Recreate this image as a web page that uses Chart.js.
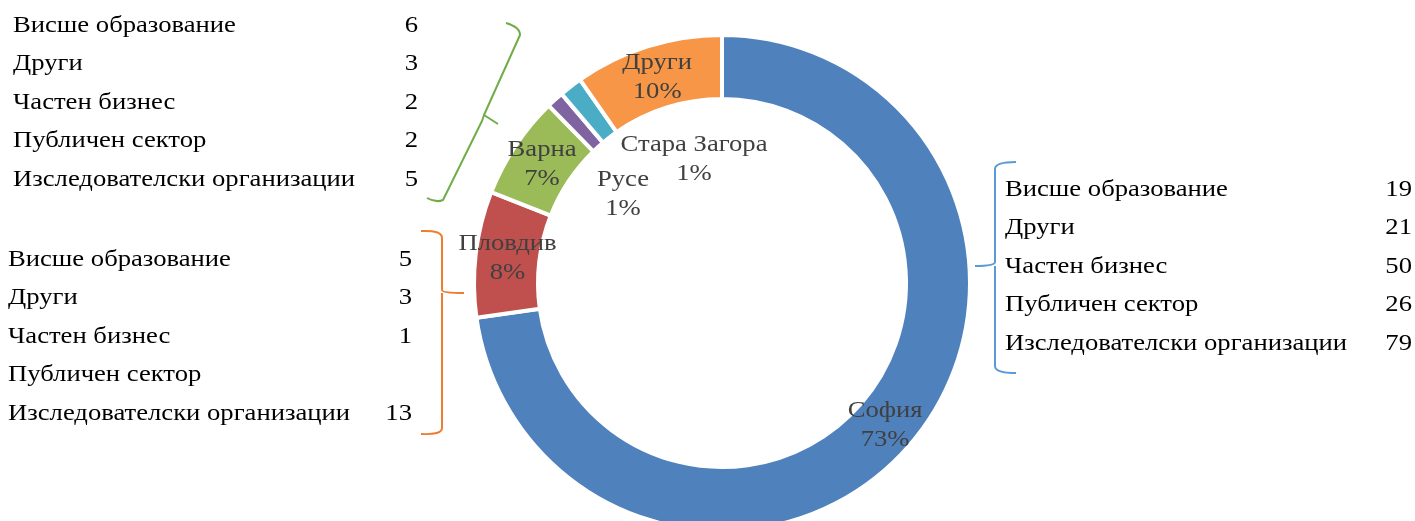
<!DOCTYPE html>
<html>
<head>
<meta charset="utf-8">
<script src="https://cdn.jsdelivr.net/npm/chart.js@4"></script>
<style>
  html, body { margin: 0; padding: 0; background: #fff; overflow: hidden; }
  #wrap { position: relative; width: 1415px; height: 521px; overflow: hidden; }
  #chart { position: absolute; left: 0; top: 0; }
  .tbl { position: absolute; font-family: "Liberation Serif", "Times New Roman", serif; font-size: 24px; color: #000; }
  .row { position: relative; height: 38.5px; line-height: 38.5px; white-space: nowrap; }
  .row span { display: inline-block; transform: scaleX(1.11); transform-origin: left center; }
  .row .num { position: absolute; right: 0; top: 0; transform-origin: right center; }
</style>
</head>
<body>
<div id="wrap">
  <canvas id="chart" width="1415" height="566"></canvas>
  <div class="tbl" id="varnaTbl"></div>
  <div class="tbl" id="plovdivTbl"></div>
  <div class="tbl" id="sofiaTbl"></div>
</div>
<script>
// cities on the ring, clockwise from the top
const cities = ['София', 'Пловдив', 'Варна', 'Русе', 'Стара Загора', 'Други'];
const cityCounts = [195, 22, 18, 3, 4, 26];
const cityColors = ['#4f81bd', '#c0504d', '#9bbb59', '#8064a2', '#4bacc6', '#f79646'];

// breakdown by sector
const sectors = ['Висше образование', 'Други', 'Частен бизнес', 'Публичен сектор', 'Изследователски организации'];
const sofiaCounts = [19, 21, 50, 26, 79];
const plovdivCounts = [5, 3, 1, null, 13];
const varnaCounts = [6, 3, 2, 2, 5];

function fillTable(id, counts, left, width, firstBaseline) {
  const el = document.getElementById(id);
  el.style.left = left + 'px';
  el.style.width = width + 'px';
  el.style.top = (firstBaseline - 27.3) + 'px';
  sectors.forEach((s, i) => {
    const row = document.createElement('div');
    row.className = 'row';
    row.innerHTML = `<span>${s}</span><span class="num">${counts[i] ?? ''}</span>`;
    el.appendChild(row);
  });
}
fillTable('varnaTbl', varnaCounts, 13, 405, 32);
fillTable('plovdivTbl', plovdivCounts, 8, 404, 266);
fillTable('sofiaTbl', sofiaCounts, 1005, 407, 196);

// small slices get their labels inside the hole
const labelShift = { 3: [-99, -89], 4: [-28, -124] };

const sliceLabels = {
  id: 'sliceLabels',
  afterDatasetsDraw(chart) {
    const ctx = chart.ctx;
    const meta = chart.getDatasetMeta(0);
    const total = cityCounts.reduce((a, b) => a + b, 0);
    ctx.save();
    ctx.font = '24px "Liberation Serif", "Times New Roman", serif';
    ctx.fillStyle = '#404040';
    ctx.textAlign = 'center';
    ctx.textBaseline = 'alphabetic';
    meta.data.forEach((arc, i) => {
      let p = arc.getCenterPoint();
      if (labelShift[i]) p = { x: arc.x + labelShift[i][0], y: arc.y + labelShift[i][1] };
      const pct = Math.round(cityCounts[i] / total * 100) + '%';
      ctx.save();
      ctx.translate(p.x, p.y);
      ctx.scale(1.11, 1);
      ctx.fillText(cities[i], 0, -8);
      ctx.fillText(pct, 0, 21);
      ctx.restore();
    });
    ctx.restore();
  }
};

// curly braces linking the tables to the ring
function brace(ctx, color, pts) {
  ctx.strokeStyle = color;
  ctx.lineWidth = 2;
  ctx.lineJoin = 'round';
  ctx.beginPath();
  pts.forEach((seg, k) => {
    if (k === 0) ctx.moveTo(seg[0], seg[1]);
    else if (seg.length === 4) ctx.quadraticCurveTo(seg[0], seg[1], seg[2], seg[3]);
    else ctx.lineTo(seg[0], seg[1]);
  });
  ctx.stroke();
}

const braces = {
  id: 'braces',
  afterDraw(chart) {
    const ctx = chart.ctx;
    ctx.save();
    // green (Варна)
    brace(ctx, '#70ad47', [[506, 23], [520, 27, 520, 35], [484, 115], [498, 124]]);
    brace(ctx, '#70ad47', [[484, 115], [482, 121], [443, 200], [436, 203, 427, 198]]);
    // orange (Пловдив)
    brace(ctx, '#ed7d31', [[421, 231], [442, 230, 442, 238], [442, 290], [442, 293, 464, 293]]);
    brace(ctx, '#ed7d31', [[442, 293, 442, 297], [442, 428], [442, 435, 421, 434]]);
    // blue (София)
    brace(ctx, '#5b9bd5', [[1016, 162], [995, 162, 995, 169], [995, 262], [995, 266, 975, 266]]);
    brace(ctx, '#5b9bd5', [[995, 266, 995, 270], [995, 366], [995, 373, 1016, 373]]);
    ctx.restore();
  }
};

new Chart(document.getElementById('chart').getContext('2d'), {
  type: 'doughnut',
  data: {
    labels: cities,
    datasets: [{
      data: cityCounts,
      backgroundColor: cityColors,
      borderColor: '#ffffff',
      borderWidth: 4
    }]
  },
  options: {
    responsive: false,
    animation: false,
    devicePixelRatio: 1,
    cutout: '74.2%',
    layout: { padding: { left: 472, right: 443, top: 33, bottom: 33 } },
    plugins: { legend: { display: false }, tooltip: { enabled: false } }
  },
  plugins: [sliceLabels, braces]
});
</script>
</body>
</html>
